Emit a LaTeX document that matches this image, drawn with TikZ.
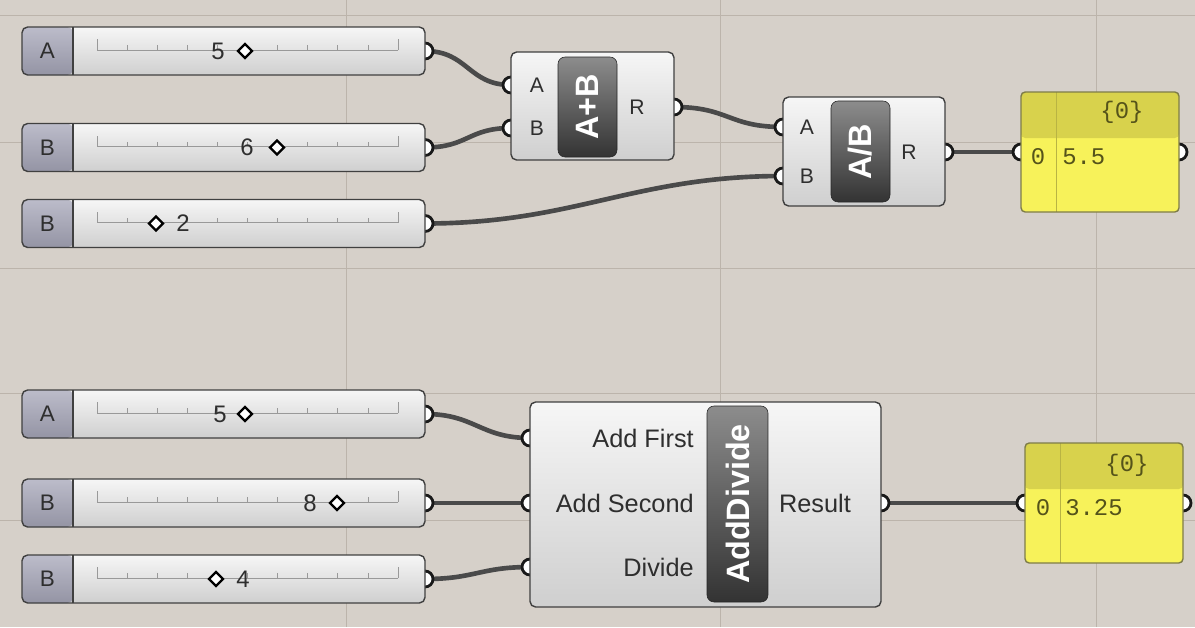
\documentclass[tikz,border=0pt]{standalone}
\usepackage{fontspec}
\setmainfont{Liberation Sans}
\newfontfamily\panelfont{Liberation Mono}
\usetikzlibrary{shapes.geometric}
\pgfdeclarelayer{bg}\pgfdeclarelayer{wires}\pgfdeclarelayer{ports}
\pgfsetlayers{bg,wires,ports,main}
\def\px{0.025cm}
\definecolor{canvas}{HTML}{D6D0C9}
\definecolor{gridcol}{HTML}{BCB4AB}
\definecolor{wirecol}{HTML}{4A4A4A}
\definecolor{edgecol}{HTML}{404040}
\definecolor{bodytop}{HTML}{F6F6F6}
\definecolor{bodybot}{HTML}{CFCFCF}
\definecolor{tabtop}{HTML}{BCBCCA}
\definecolor{tabbot}{HTML}{9494A4}
\definecolor{textcol}{HTML}{2E2E2E}
\definecolor{panelcol}{HTML}{F7F25A}
\definecolor{headcol}{HTML}{D8D24C}
\definecolor{panedge}{HTML}{7E7C48}
\definecolor{sepcol}{HTML}{B9B443}
\definecolor{monocol}{HTML}{55531A}
\tikzset{
  slider/.style={draw=edgecol, line width=1pt, rounded corners=4pt, inner sep=0pt,
    minimum width=403*\px, minimum height=48*\px, top color=bodytop, bottom color=bodybot,
    path picture={\shade[top color=tabtop, bottom color=tabbot] (path picture bounding box.north west) rectangle ([xshift=51*\px]path picture bounding box.south west);
      \draw[edgecol, line width=1pt] ([xshift=51*\px]path picture bounding box.north west) -- ([xshift=51*\px]path picture bounding box.south west);}},
  tablab/.style={text=textcol, inner sep=0pt, font=\fontsize{16}{18}\selectfont},
  tick/.style={draw=black!40, line width=0.5pt},
  val/.style={text=textcol, inner sep=0pt, font=\fontsize{17}{20}\selectfont},
  knob/.style={diamond, draw=black, fill=white, line width=1.7pt, inner sep=0pt, minimum size=15*\px},
  port/.style={circle, draw=black!90, fill=white, line width=2pt, inner sep=0pt, minimum size=16*\px},
  comp/.style 2 args={draw=edgecol, line width=1pt, rounded corners=4pt, inner sep=0pt,
    top color=bodytop, bottom color=bodybot, minimum width=#1*\px, minimum height=#2*\px},
  darkbox/.style 2 args={draw=black!85, rounded corners=5pt, inner sep=0pt,
    top color=black!45, middle color=black!76, bottom color=black!80, text=white,
    font=\bfseries\fontsize{23}{26}\selectfont, minimum width=#1*\px, minimum height=#2*\px},
  plab/.style={text=textcol, inner sep=0pt, font=\fontsize{15}{17}\selectfont},
  bigplab/.style={text=textcol, inner sep=0pt, font=\fontsize{18}{21}\selectfont},
  panel/.style={draw=panedge, fill=panelcol, line width=1pt, rounded corners=3pt, inner sep=0pt,
    minimum width=158*\px, minimum height=120*\px,
    path picture={\fill[headcol] (path picture bounding box.north west) rectangle ([yshift=-46*\px]path picture bounding box.north east);
      \draw[sepcol, line width=0.6pt] ([xshift=35*\px]path picture bounding box.north west) -- ([xshift=35*\px]path picture bounding box.south west);}},
  mono/.style={text=monocol, inner sep=0pt, font=\panelfont\fontsize{17}{19}\selectfont},
  wire/.style={draw=wirecol, line width=3.3pt, line cap=round}
}
\begin{document}
\begin{tikzpicture}[x=\px, y=-\px]
\useasboundingbox (0,0) rectangle (1195,627);
\begin{pgfonlayer}{bg}
  \fill[canvas] (0,0) rectangle (1195,627);
  \foreach \gx in {346,720,1096} \draw[gridcol, line width=0.6pt] (\gx,0) -- (\gx,627);
  \foreach \gy in {15,142,268,393,520} \draw[gridcol, line width=0.6pt] (0,\gy) -- (1195,\gy);
\end{pgfonlayer}

\foreach \nm/\y/\lab/\val/\vx/\dx in {s1/51/A/5/218/245, s2/147.5/B/6/247/277, s3/223.5/B/2/183/156,
    s4/414/A/5/220/245, s5/503/B/8/310/337, s6/579/B/4/243/216}{
  \node[slider] (\nm) at (223.5,\y) {};
  \node[tablab] (\nm lab) at (47.5,\y) {\lab};
  \draw[tick] (97,\y-1) -- (398,\y-1) (97,\y-1) -- ++(0,-11) (398,\y-1) -- ++(0,-11);
  \foreach \k in {1,...,9} \draw[tick] (97+30.1*\k,\y-1) -- ++(0,-5);
  \node[val] (\nm val) at (\vx,\y) {\val};
  \node[knob] (\nm knob) at (\dx,\y) {};
  \begin{pgfonlayer}{ports}\node[port] (\nm o) at (425,\y) {};\end{pgfonlayer}
}

\node[comp={163}{108}] (ab) at (592.5,106) {};
\node[darkbox={59}{100}] (abt) at (587.5,107) {\rotatebox{90}{A+B}};
\node[plab] (abla) at (537,85) {A};
\node[plab] (ablb) at (537,128) {B};
\node[plab] (ablr) at (637,107) {R};

\node[comp={162}{109}] (ad) at (864,151.5) {};
\node[darkbox={59}{101}] (adt) at (860.5,151.5) {\rotatebox{90}{A/B}};
\node[plab] (adla) at (807,127) {A};
\node[plab] (adlb) at (807,176) {B};
\node[plab] (adlr) at (909,152) {R};

\node[comp={351}{205}] (dd) at (705.5,504.5) {};
\node[darkbox={61}{196}] (ddt) at (737.5,504) {\rotatebox{90}{AddDivide}};
\node[bigplab, anchor=east] (ddla) at (694,438) {Add First};
\node[bigplab, anchor=east] (ddlb) at (694,503) {Add Second};
\node[bigplab, anchor=east] (ddlc) at (694,567) {Divide};
\node[bigplab] (ddlr) at (815,503) {Result};

\node[panel] (p1) at (1100,152) {};
\node[mono] (p1h) at (1122,112) {\{0\}};
\node[mono] (p1n) at (1038,157) {0};
\node[mono, anchor=west] (p1v) at (1062,157) {5.5};

\node[panel] (p2) at (1104,503) {};
\node[mono] (p2h) at (1127,465) {\{0\}};
\node[mono] (p2n) at (1043,508) {0};
\node[mono, anchor=west] (p2v) at (1065,508) {3.25};

\begin{pgfonlayer}{ports}
  \node[port] (abA) at (511,85) {};
  \node[port] (abB) at (511,128) {};
  \node[port] (abR) at (674,107) {};
  \node[port] (adA) at (783,127) {};
  \node[port] (adB) at (783,176) {};
  \node[port] (adR) at (945,152) {};
  \node[port] (ddA) at (530,438) {};
  \node[port] (ddB) at (530,503) {};
  \node[port] (ddC) at (530,567) {};
  \node[port] (ddR) at (881,503) {};
  \node[port] (p1i) at (1021,152) {};
  \node[port] (p1o) at (1179,152) {};
  \node[port] (p2i) at (1025,503) {};
  \node[port] (p2o) at (1183,503) {};
\end{pgfonlayer}

\begin{pgfonlayer}{wires}
  \foreach \a/\b/\d in {s1o/abA/43, s2o/abB/43, s3o/adB/150, abR/adA/55, adR/p1i/35,
      s4o/ddA/50, s5o/ddB/50, s6o/ddC/50, ddR/p2i/70}
    \draw[wire] (\a.center) .. controls +(\d,0) and +(-\d,0) .. (\b.center);
\end{pgfonlayer}
\end{tikzpicture}
\end{document}
